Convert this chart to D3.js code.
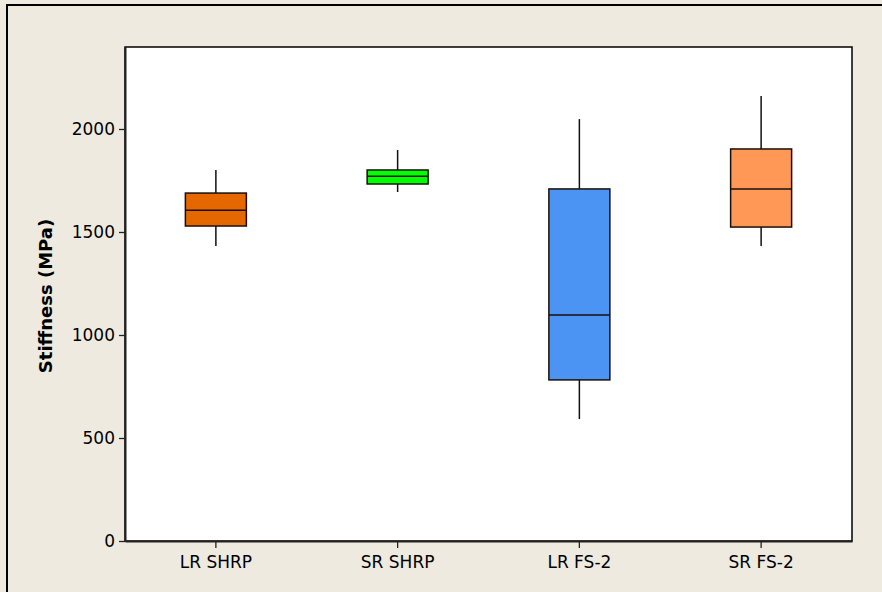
<!DOCTYPE html>
<html>
<head>
<meta charset="utf-8">
<script src="https://cdn.jsdelivr.net/npm/d3@7"></script>
<style>
  body { margin: 0; background: #eeeae0; }
</style>
</head>
<body>
<svg id="chart"></svg>
<script>
var width = 882,
    height = 592;

var categories = ['LR SHRP', 'SR SHRP', 'LR FS-2', 'SR FS-2'];
var whiskerLow = [1432, 1694, 592, 1432];
var q1 = [1529, 1733, 782, 1524];
var medians = [1605, 1770, 1097, 1709];
var q3 = [1689, 1801, 1709, 1903];
var whiskerHigh = [1801, 1898, 2048, 2160];
var fills = ['#e46700', '#00ff00', '#4b94f3', '#ff9757'];
var yTicks = [0, 500, 1000, 1500, 2000];

var margin = {left: 125, right: 30, top: 47, bottom: 51};

let svg = d3.select('#chart').attr('width', width).attr('height', height);

// outer frame
svg.append('rect')
    .attr('x', 0).attr('y', 0)
    .attr('width', width).attr('height', height)
    .attr('fill', '#eeeae0');
svg.append('path')
    .attr('d', 'M7,' + height + 'V5H' + width)
    .attr('fill', 'none')
    .attr('stroke', '#000')
    .attr('stroke-width', 2);

let x = d3.scaleBand().domain(categories).range([margin.left, width - margin.right]).padding(0),
    y = d3.scaleLinear().domain([0, 2398]).range([height - margin.bottom, margin.top]);

svg.append('rect')
    .attr('x', margin.left)
    .attr('y', margin.top)
    .attr('width', width - margin.right - margin.left)
    .attr('height', height - margin.bottom - margin.top)
    .attr('fill', '#fff')
    .attr('stroke', '#000')
    .attr('stroke-width', 1.5);

let data = categories.map(function(c, i) {
    return {cat: c, lo: whiskerLow[i], q1: q1[i], med: medians[i], q3: q3[i], hi: whiskerHigh[i], color: fills[i]};
});

let boxW = 61;
let boxes = svg.selectAll('.box')
    .data(data)
    .enter()
    .append('g')
    .attr('class', 'box')
    .attr('transform', function(d) { return 'translate(' + (x(d.cat) + x.bandwidth() / 2) + ',0)'; });

boxes.append('line')
    .attr('x1', 0).attr('x2', 0)
    .attr('y1', function(d) { return y(d.hi); })
    .attr('y2', function(d) { return y(d.q3); })
    .attr('stroke', '#111').attr('stroke-width', 1.5);
boxes.append('line')
    .attr('x1', 0).attr('x2', 0)
    .attr('y1', function(d) { return y(d.q1); })
    .attr('y2', function(d) { return y(d.lo); })
    .attr('stroke', '#111').attr('stroke-width', 1.5);
boxes.append('rect')
    .attr('x', -boxW / 2)
    .attr('width', boxW)
    .attr('y', function(d) { return y(d.q3); })
    .attr('height', function(d) { return y(d.q1) - y(d.q3); })
    .attr('fill', function(d) { return d.color; })
    .attr('stroke', '#1a0f08')
    .attr('stroke-width', 1.5);
boxes.append('line')
    .attr('x1', -boxW / 2).attr('x2', boxW / 2)
    .attr('y1', function(d) { return y(d.med); })
    .attr('y2', function(d) { return y(d.med); })
    .attr('stroke', '#1a0f08').attr('stroke-width', 1.5);

// axes
let yAxis = svg.append('g')
    .attr('transform', 'translate(' + margin.left + ',0)')
    .call(d3.axisLeft(y).tickValues(yTicks).tickSizeInner(6).tickSizeOuter(0).tickPadding(4).tickFormat(d3.format('d')));
let xAxis = svg.append('g')
    .attr('transform', 'translate(0,' + (height - margin.bottom) + ')')
    .call(d3.axisBottom(x).tickSizeInner(7).tickSizeOuter(0).tickPadding(5));

[yAxis, xAxis].forEach(function(a) {
    a.select('.domain').attr('stroke', '#222').attr('stroke-width', 2);
    a.selectAll('.tick line').attr('stroke', '#222').attr('stroke-width', 1.3);
    a.selectAll('text')
        .attr('font-family', 'DejaVu Sans, sans-serif')
        .attr('font-size', '17px')
        .attr('fill', '#000');
});
xAxis.selectAll('text').attr('dy', '0.9em');

svg.append('text')
    .attr('transform', 'translate(52,296) rotate(-90)')
    .attr('text-anchor', 'middle')
    .attr('font-family', 'DejaVu Sans, sans-serif')
    .attr('font-size', '18px')
    .attr('font-weight', 'bold')
    .text('Stiffness (MPa)');
</script>
</body>
</html>
